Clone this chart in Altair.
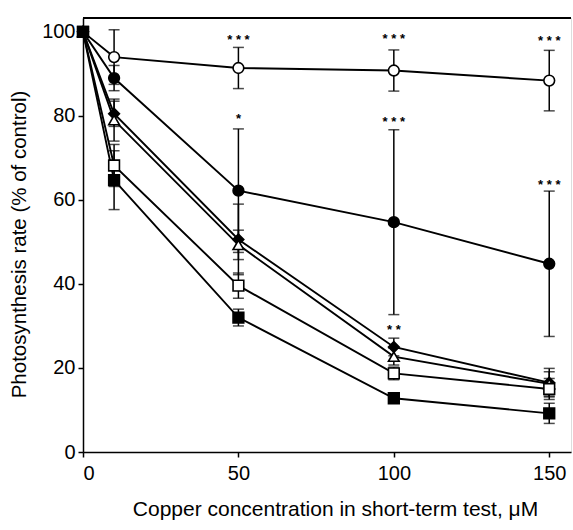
import altair as alt
import pandas as pd

conc = [0, 10, 50, 100, 150]

series_names = ["open circle", "filled circle", "filled diamond", "open triangle", "open square", "filled square"]
shapes = ["circle", "circle", "diamond", "triangle-up", "square", "square"]
fills = ["white", "black", "black", "white", "white", "black"]
sizes = [115, 115, 160, 140, 105, 95]

open_circle = [100, 94.0, 91.4, 90.8, 88.4]
open_circle_err = [0, 6.5, 4.9, 4.9, 7.2]
filled_circle = [100, 89.0, 62.2, 54.7, 44.8]
filled_circle_err = [0, 3.0, 14.7, 22.0, 17.3]
filled_diamond = [100, 80.5, 50.6, 25.0, 16.5]
filled_diamond_err = [0, 3.0, 8.4, 2.1, 3.4]
open_triangle = [100, 79.0, 49.3, 22.7, 16.2]
open_triangle_err = [0, 5.0, 3.5, 2.0, 2.9]
open_square = [100, 68.2, 39.6, 18.7, 15.0]
open_square_err = [0, 5.0, 3.0, 1.5, 2.5]
filled_square = [100, 64.7, 32.0, 12.8, 9.2]
filled_square_err = [0, 7.0, 2.0, 1.2, 2.4]

star_x = [50, 50, 100, 100, 100, 150, 150]
star_y = [98.8, 80.0, 98.9, 79.2, 29.8, 98.5, 64.3]
star_text = ["* * *", "*", "* * *", "* * *", "* *", "* * *", "* * *"]

x_ticks = [0, 50, 100, 150]
y_ticks = [0, 20, 40, 60, 80, 100]

values = [open_circle, filled_circle, filled_diamond, open_triangle, open_square, filled_square]
errs = [open_circle_err, filled_circle_err, filled_diamond_err, open_triangle_err, open_square_err, filled_square_err]

rows = []
for name, vals, es in zip(series_names, values, errs):
    for c, v, e in zip(conc, vals, es):
        rows.append({"series": name, "conc": c, "rate": v, "lo": v - e, "hi": v + e, "has_err": e > 0})
df = pd.DataFrame(rows)
err_df = df[df["has_err"]]

stars = pd.DataFrame({"conc": star_x, "rate": star_y, "label": star_text})

W, H = 488, 434
xs = alt.Scale(domain=[0, 157], nice=False, zero=False)
ys = alt.Scale(domain=[0, 103.3], nice=False)

FONT = "Liberation Sans"
xenc = alt.X("conc:Q", scale=xs, axis=alt.Axis(
    values=x_ticks, title="Copper concentration in short-term test, \u03bcM", grid=False,
    tickSize=5, tickColor="black", domainColor="black", domainWidth=1.5, tickWidth=1.5,
    labelFontSize=20, labelColor="black", labelFont=FONT, labelPadding=6,
    titleFontSize=21, titleFont=FONT, titleFontWeight="normal", titleColor="black",
    titlePadding=15, titleX=252))
yenc = alt.Y("rate:Q", scale=ys, axis=alt.Axis(
    values=y_ticks, title="Photosynthesis rate (% of control)", grid=False,
    tickSize=5, tickColor="black", domainColor="black", domainWidth=1.5, tickWidth=1.5,
    labelFontSize=20, labelColor="black", labelFont=FONT, labelPadding=3,
    titleFontSize=20.5, titleFont=FONT, titleFontWeight="normal", titleColor="black",
    titlePadding=12, titleY=226))

base = alt.Chart(df)

lines = base.mark_line(color="black", strokeWidth=1.9).encode(
    x=xenc, y=yenc, detail="series:N", order="conc:Q")

bars = alt.Chart(err_df).mark_rule(color="black", strokeWidth=1.5).encode(
    x=alt.X("conc:Q", scale=xs), y=alt.Y("lo:Q", scale=ys), y2="hi:Q")
cap_lo = alt.Chart(err_df).mark_tick(color="black", orient="horizontal", size=11, thickness=1.5).encode(
    x=alt.X("conc:Q", scale=xs), y=alt.Y("lo:Q", scale=ys))
cap_hi = alt.Chart(err_df).mark_tick(color="black", orient="horizontal", size=11, thickness=1.5).encode(
    x=alt.X("conc:Q", scale=xs), y=alt.Y("hi:Q", scale=ys))

points = base.mark_point(stroke="black", strokeWidth=1.6, opacity=1, filled=False).encode(
    x=alt.X("conc:Q", scale=xs),
    y=alt.Y("rate:Q", scale=ys),
    shape=alt.Shape("series:N", scale=alt.Scale(domain=series_names, range=shapes), legend=None),
    fill=alt.Fill("series:N", scale=alt.Scale(domain=series_names, range=fills), legend=None),
    size=alt.Size("series:N", scale=alt.Scale(domain=series_names, range=sizes), legend=None),
)

star_marks = alt.Chart(stars).mark_text(fontSize=13, font=FONT, fontWeight="bold", color="black",
                                        baseline="middle", dy=3).encode(
    x=alt.X("conc:Q", scale=xs), y=alt.Y("rate:Q", scale=ys), text="label:N")

top_border = alt.Chart(df).mark_rule(color="black", strokeWidth=1.5).encode(
    x=alt.value(0), x2=alt.value(W), y=alt.value(0))

chart = alt.layer(lines, bars, cap_lo, cap_hi, points, star_marks, top_border).properties(
    width=W, height=H,
    padding={"left": 83, "top": 18, "right": 2, "bottom": 78},
    autosize=alt.AutoSizeParams(type="none"),
).configure_view(stroke=None).configure(background="white")

chart.save("out.html", embed_options={"renderer": "svg", "actions": False})
